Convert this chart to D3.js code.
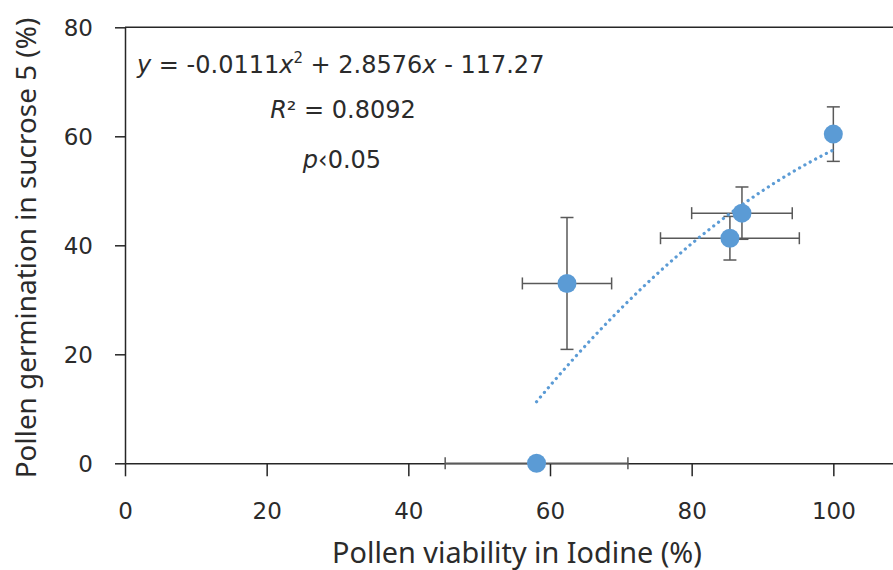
<!DOCTYPE html>
<html>
<head>
<meta charset="utf-8">
<script src="https://cdn.jsdelivr.net/npm/d3@7/dist/d3.min.js"></script>
<style>
  html, body { margin: 0; padding: 0; background: #fff; }
  svg { display: block; }
</style>
</head>
<body>
<svg id="chart" width="893" height="570"></svg>
<script>
// ---- data ----
const viability      = [58.1, 62.4, 85.4, 87.1, 100];   // x, Pollen viability in Iodine (%)
const germination    = [0, 33.0, 41.3, 45.9, 60.4];     // y, Pollen germination in sucrose 5 (%)
const viabilityErr   = [12.9, 6.3, 9.8, 7.1, 0];
const germinationErr = [0, 12.1, 4.0, 4.8, 5.0];
const trendCoef      = [-0.0111, 2.8576, -117.27];      // a, b, c of displayed polynomial
const xTicks = [0, 20, 40, 60, 80, 100];
const yTicks = [0, 20, 40, 60, 80];
const xTitle = "Pollen viability in Iodine (%)";
const yTitle = "Pollen germination in sucrose 5 (%)";

// ---- layout ----
const svg = d3.select("#chart");
const x = d3.scaleLinear().domain([0, 120]).range([125, 975]);
const y = d3.scaleLinear().domain([0, 80]).range([463.3, 27.3]);

const axisColor = "#262626";
const textColor = "#2b2b2b";
const tickFont = "'DejaVu Sans', Verdana, sans-serif";

// top border of plot area
svg.append("line")
  .attr("x1", x(0)).attr("x2", x(120))
  .attr("y1", y(80)).attr("y2", y(80))
  .attr("stroke", axisColor).attr("stroke-width", 1.5);

// x axis
const gx = svg.append("g").attr("transform", `translate(0,${y(0)})`)
  .call(d3.axisBottom(x).tickValues(xTicks).tickSize(13).tickSizeOuter(0));
gx.select(".domain").attr("stroke", axisColor).attr("stroke-width", 1.5);
gx.selectAll(".tick line").attr("stroke", axisColor).attr("stroke-width", 1.5);
gx.selectAll(".tick text")
  .attr("y", 56).attr("dy", 0)
  .attr("fill", textColor)
  .style("font-family", tickFont).style("font-size", "23px");

// y axis
const gy = svg.append("g").attr("transform", `translate(${x(0)},0)`)
  .call(d3.axisLeft(y).tickValues(yTicks).tickSize(10).tickSizeOuter(0));
gy.select(".domain").attr("stroke", axisColor).attr("stroke-width", 1.5);
gy.selectAll(".tick line").attr("stroke", axisColor).attr("stroke-width", 1.5);
gy.selectAll(".tick text")
  .attr("x", -32).attr("dy", "0.36em")
  .attr("fill", textColor)
  .style("font-family", tickFont).style("font-size", "23px");

// axis titles
svg.append("text")
  .attr("x", 517).attr("y", 563)
  .attr("text-anchor", "middle")
  .attr("fill", textColor)
  .style("font-family", "'Noto Sans', sans-serif").style("font-size", "28.8px")
  .text(xTitle);

svg.append("text")
  .attr("transform", "translate(36,248) rotate(-90)")
  .attr("text-anchor", "middle")
  .attr("fill", textColor)
  .style("font-family", "'Noto Sans', sans-serif").style("font-size", "27.9px")
  .text(yTitle);

// data table
const pts = viability.map((v, i) => ({
  x: v, y: germination[i], ex: viabilityErr[i], ey: germinationErr[i]
}));

// error bars
const errColor = "#595959";
const eb = svg.append("g").attr("stroke", errColor).attr("stroke-width", 1.5);
pts.forEach(p => {
  if (p.ex > 0) {
    eb.append("line").attr("x1", x(p.x - p.ex)).attr("x2", x(p.x + p.ex))
      .attr("y1", y(p.y)).attr("y2", y(p.y));
    [p.x - p.ex, p.x + p.ex].forEach(v => {
      eb.append("line").attr("x1", x(v)).attr("x2", x(v))
        .attr("y1", y(p.y) - 6).attr("y2", y(p.y) + 6);
    });
  }
  if (p.ey > 0) {
    eb.append("line").attr("x1", x(p.x)).attr("x2", x(p.x))
      .attr("y1", y(p.y - p.ey)).attr("y2", y(p.y + p.ey));
    [p.y - p.ey, p.y + p.ey].forEach(v => {
      eb.append("line").attr("x1", x(p.x) - 6.5).attr("x2", x(p.x) + 6.5)
        .attr("y1", y(v)).attr("y2", y(v));
    });
  }
});

// polynomial trendline (from the displayed equation)
const [ta, tb, tc] = trendCoef;
const xMin = d3.min(viability), xMax = d3.max(viability);
const trend = d3.range(0, 101).map(i => {
  const xv = xMin + (xMax - xMin) * i / 100;
  return [xv, ta * xv * xv + tb * xv + tc];
});
svg.append("path")
  .datum(trend)
  .attr("fill", "none")
  .attr("stroke", "#5b9bd5")
  .attr("stroke-width", 3.2)
  .attr("stroke-linecap", "round")
  .attr("stroke-dasharray", "0.1 6")
  .attr("d", d3.line().x(d => x(d[0])).y(d => y(d[1])));

// markers
svg.append("g").selectAll("circle")
  .data(pts).join("circle")
  .attr("cx", d => x(d.x)).attr("cy", d => y(d.y))
  .attr("r", 9.5)
  .attr("fill", "#5b9bd5");

// annotations
const annFont = "'DejaVu Sans', Verdana, sans-serif";
const eq = svg.append("text")
  .attr("x", 137).attr("y", 73)
  .attr("fill", textColor)
  .style("font-family", annFont).style("font-size", "24px");
eq.append("tspan").style("font-style", "italic").text("y");
eq.append("tspan").text(" = -0.0111");
eq.append("tspan").style("font-style", "italic").text("x");
eq.append("tspan").attr("dy", -10).style("font-size", "15px").text("2");
eq.append("tspan").attr("dy", 10).text(" + 2.8576");
eq.append("tspan").style("font-style", "italic").text("x");
eq.append("tspan").text(" - 117.27");

const r2 = svg.append("text")
  .attr("x", 343).attr("y", 118)
  .attr("text-anchor", "middle")
  .attr("fill", textColor)
  .style("font-family", annFont).style("font-size", "24px");
r2.append("tspan").style("font-style", "italic").text("R");
r2.append("tspan").text("² = 0.8092");

const pv = svg.append("text")
  .attr("x", 342).attr("y", 168)
  .attr("text-anchor", "middle")
  .attr("fill", textColor)
  .style("font-family", annFont).style("font-size", "24px");
pv.append("tspan").style("font-style", "italic").text("p");
pv.append("tspan").text("‹0.05");
</script>
</body>
</html>
